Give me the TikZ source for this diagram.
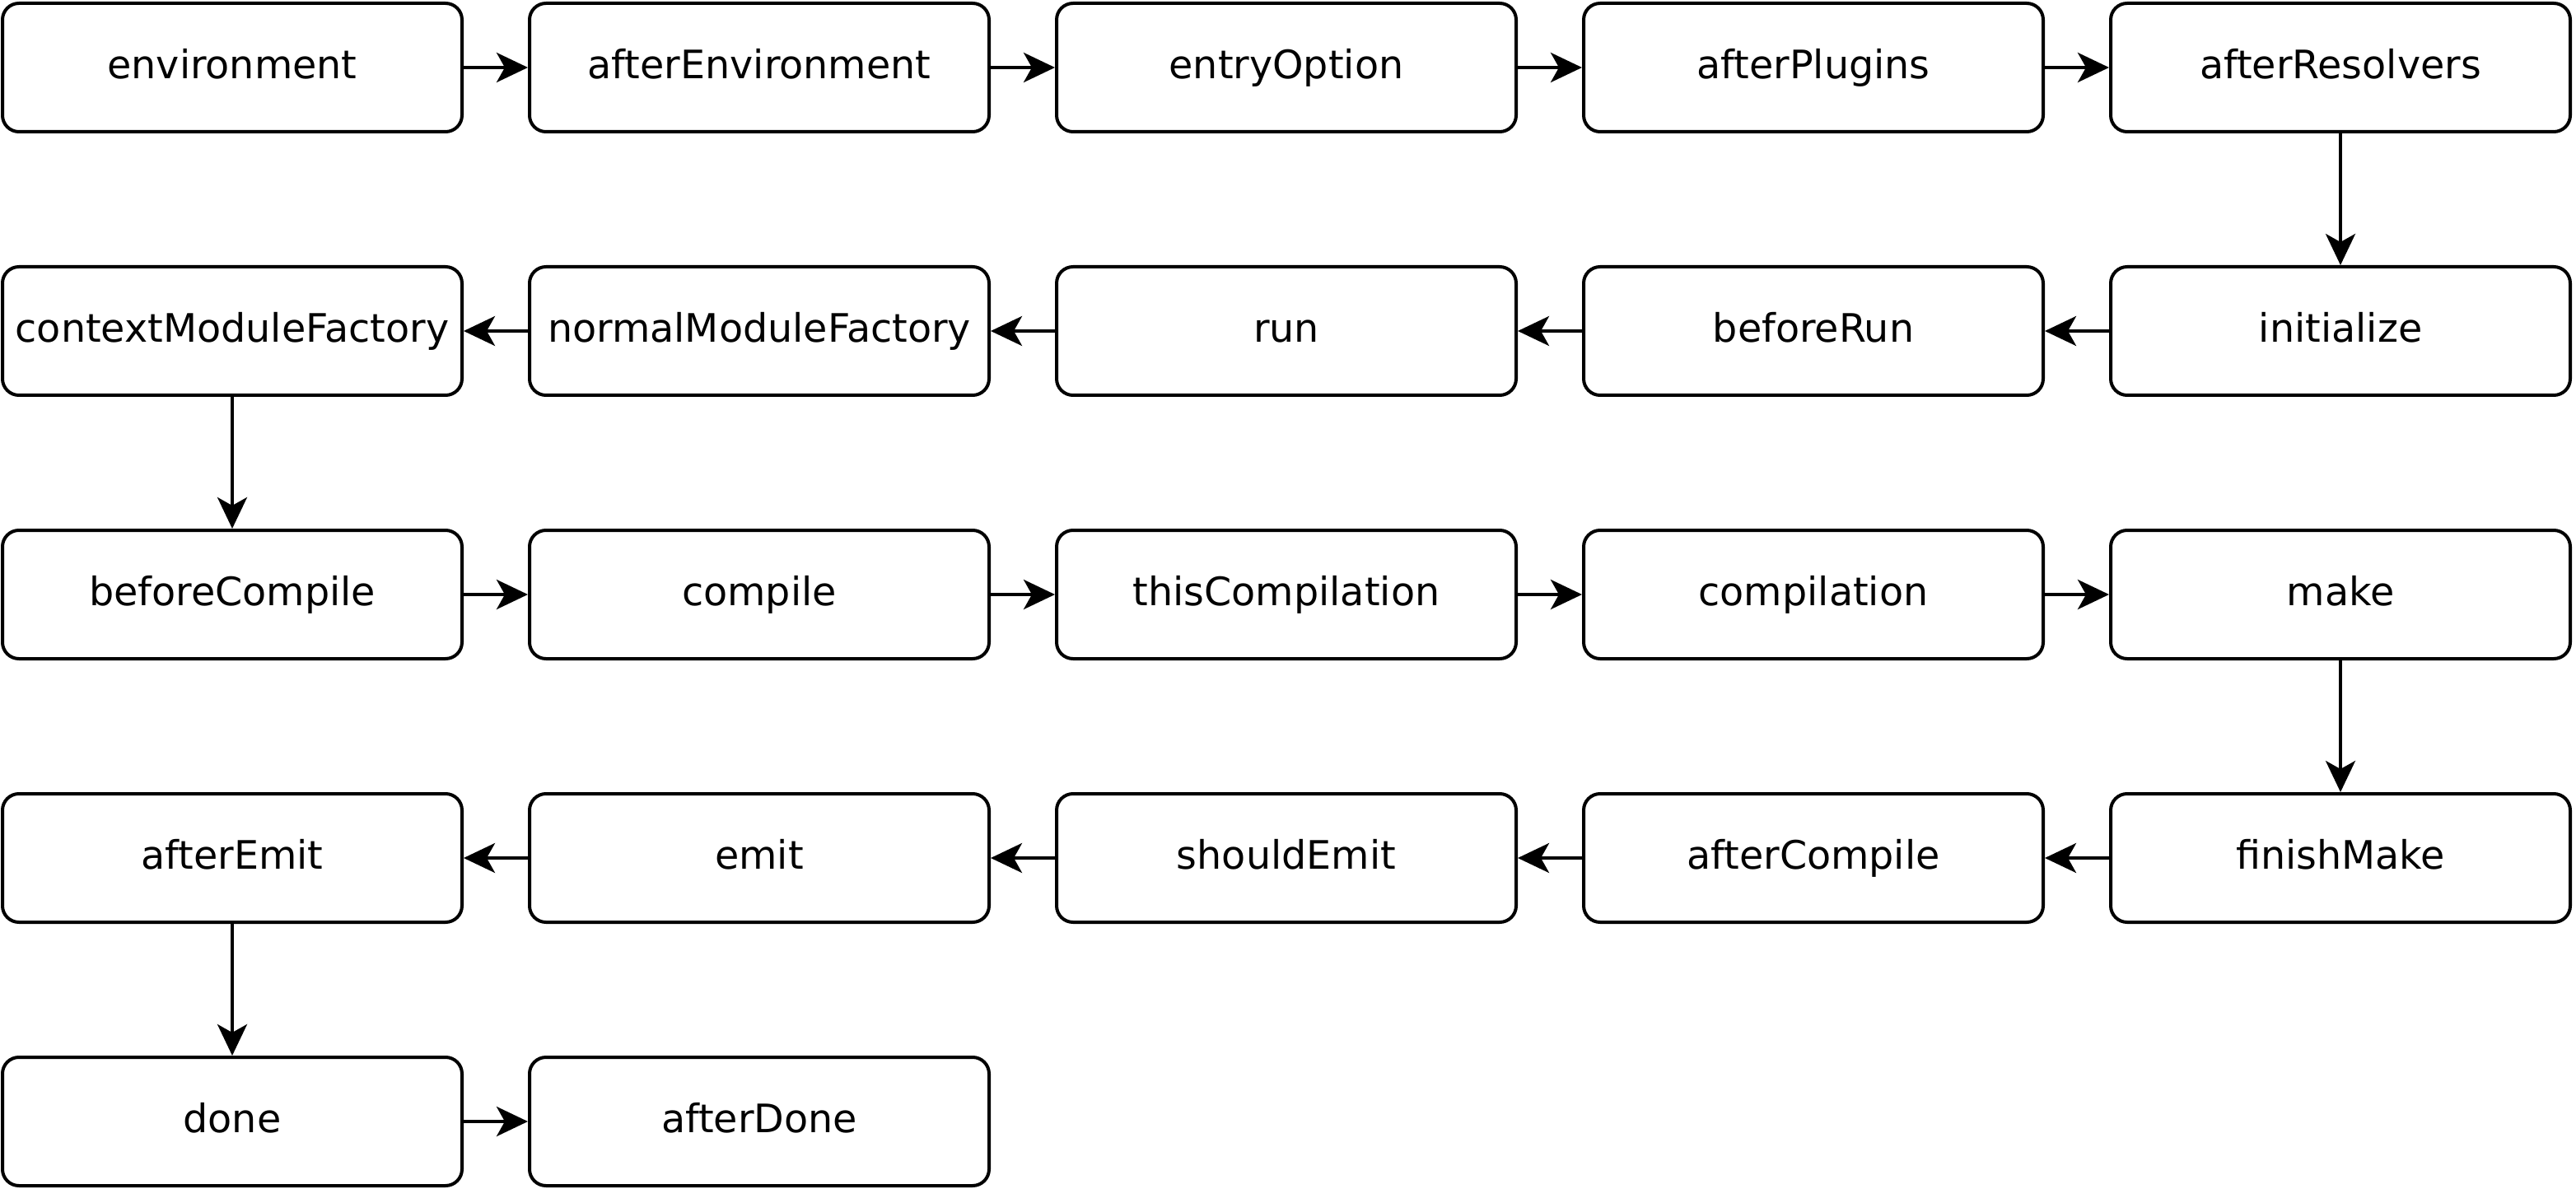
\documentclass[tikz,border=0pt]{standalone}
\usepackage{fontspec}
\setmainfont{DejaVu Sans}
\usetikzlibrary{arrows.meta}
\begin{document}
\begin{tikzpicture}[x=1pt,y=1pt,
  hook/.style={draw=black,line width=2pt,rounded corners=10pt,minimum width=279pt,minimum height=78pt,inner sep=0pt,text height=18pt,text depth=4.8pt,font=\fontsize{23.8}{28}\selectfont,fill=white},
  flow/.style={draw=black,line width=2pt,-{Stealth[length=19pt,width=18pt,inset=5pt]}}]
\useasboundingbox (0,0) rectangle (1564,-722);
% row 1
\node[hook] (environment) at (141,-41) {environment};
\node[hook] (afterEnvironment) at (461,-41) {afterEnvironment};
\node[hook] (entryOption) at (781,-41) {entryOption};
\node[hook] (afterPlugins) at (1101,-41) {afterPlugins};
\node[hook] (afterResolvers) at (1421,-41) {afterResolvers};
% row 2
\node[hook] (contextModuleFactory) at (141,-201) {contextModuleFactory};
\node[hook] (normalModuleFactory) at (461,-201) {normalModuleFactory};
\node[hook] (run) at (781,-201) {run};
\node[hook] (beforeRun) at (1101,-201) {beforeRun};
\node[hook] (initialize) at (1421,-201) {initialize};
% row 3
\node[hook] (beforeCompile) at (141,-361) {beforeCompile};
\node[hook] (compile) at (461,-361) {compile};
\node[hook] (thisCompilation) at (781,-361) {thisCompilation};
\node[hook] (compilation) at (1101,-361) {compilation};
\node[hook] (make) at (1421,-361) {make};
% row 4
\node[hook] (afterEmit) at (141,-521) {afterEmit};
\node[hook] (emit) at (461,-521) {emit};
\node[hook] (shouldEmit) at (781,-521) {shouldEmit};
\node[hook] (afterCompile) at (1101,-521) {afterCompile};
\node[hook] (finishMake) at (1421,-521) {finishMake};
% row 5
\node[hook] (done) at (141,-681) {done};
\node[hook] (afterDone) at (461,-681) {afterDone};
% connectors
\draw[flow] (environment) -- (afterEnvironment);
\draw[flow] (afterEnvironment) -- (entryOption);
\draw[flow] (entryOption) -- (afterPlugins);
\draw[flow] (afterPlugins) -- (afterResolvers);
\draw[flow] (afterResolvers) -- (initialize);
\draw[flow] (initialize) -- (beforeRun);
\draw[flow] (beforeRun) -- (run);
\draw[flow] (run) -- (normalModuleFactory);
\draw[flow] (normalModuleFactory) -- (contextModuleFactory);
\draw[flow] (contextModuleFactory) -- (beforeCompile);
\draw[flow] (beforeCompile) -- (compile);
\draw[flow] (compile) -- (thisCompilation);
\draw[flow] (thisCompilation) -- (compilation);
\draw[flow] (compilation) -- (make);
\draw[flow] (make) -- (finishMake);
\draw[flow] (finishMake) -- (afterCompile);
\draw[flow] (afterCompile) -- (shouldEmit);
\draw[flow] (shouldEmit) -- (emit);
\draw[flow] (emit) -- (afterEmit);
\draw[flow] (afterEmit) -- (done);
\draw[flow] (done) -- (afterDone);
\end{tikzpicture}
\end{document}
